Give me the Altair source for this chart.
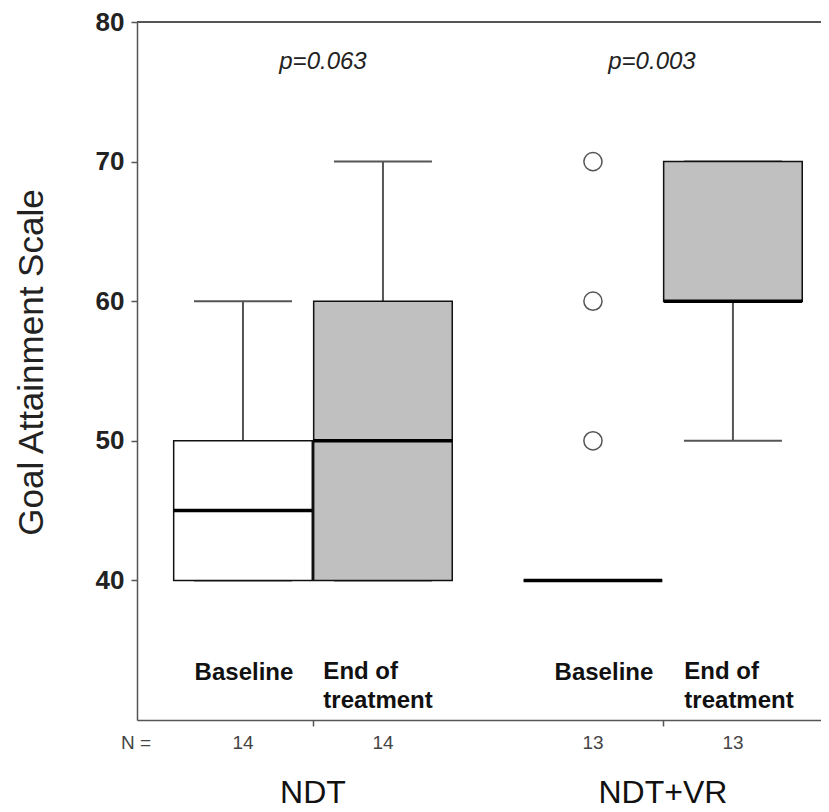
import altair as alt
import pandas as pd

# ---- data ----
groups = ["NDT", "NDT+VR"]
phases = ["Baseline", "End of treatment"]
box_group = [0, 0, 1, 1]
box_phase = [0, 1, 0, 1]
n_counts = [14, 14, 13, 13]
q1 = [40, 40, 40, 60]
median = [45, 50, 40, 60]
q3 = [50, 60, 40, 70]
whisker_low = [40, 40, 40, 50]
whisker_high = [60, 70, 40, 70]
outlier_box = [2, 2, 2]
outlier_values = [50, 60, 70]
p_labels = ["p=0.063", "p=0.003"]

# ---- layout / style constants ----
GROUP_STEP = 2.5
HALF_BOX = 0.495
HALF_CAP = 0.35
FONT = "Liberation Sans"
LINE = "#555555"
P_DX = [10, -11]      # small manual nudges of annotation texts, per group
BASE_DX = [1, 11]
END_DX = [-5, 6]

pos = [g * GROUP_STEP + p + 1 for g, p in zip(box_group, box_phase)]
group_center = [g * GROUP_STEP + 1.5 for g in range(len(groups))]

boxes = pd.DataFrame({
    "grp": box_group,
    "pos": pos,
    "left": [p - HALF_BOX for p in pos],
    "right": [p + HALF_BOX for p in pos],
    "cap_l": [p - HALF_CAP for p in pos],
    "cap_r": [p + HALF_CAP for p in pos],
    "phase": [phases[i] for i in box_phase],
    "n": [str(v) for v in n_counts],
    "q1": q1, "median": median, "q3": q3,
    "wlow": whisker_low, "whigh": whisker_high,
})
caps = pd.concat([
    boxes[["cap_l", "cap_r"]].assign(v=boxes["wlow"]),
    boxes[["cap_l", "cap_r"]].assign(v=boxes["whigh"]),
])
outliers = pd.DataFrame({"pos": [pos[i] for i in outlier_box], "v": outlier_values})
grp = pd.DataFrame({"g": list(range(len(groups))), "c": group_center, "name": groups, "p": p_labels})

xs = alt.Scale(domain=[0.243, 5.129], nice=False, zero=False)
ys = alt.Scale(domain=[30, 80], nice=False, zero=False)
xaxis = alt.Axis(values=group_center, labels=False, tickSize=6, tickColor=LINE,
                 tickWidth=1.5, domainColor=LINE, domainWidth=1.5, grid=False,
                 title=None)
yaxis = alt.Axis(values=[40, 50, 60, 70, 80], tickSize=6, tickColor=LINE, tickWidth=1.5,
                 domainColor=LINE, domainWidth=1.5, grid=False,
                 labelFont=FONT, labelFontSize=26, labelFontWeight="bold",
                 labelColor="#222222", labelPadding=7,
                 title="Goal Attainment Scale", titleFont=FONT, titleFontSize=35,
                 titleFontWeight="normal", titleColor="#222222", titleAngle=-90,
                 titleX=-95, titleY=340, titleAlign="center", titleBaseline="alphabetic")


def X(f):
    return alt.X(f, type="quantitative", scale=xs, axis=xaxis)


def Y(f):
    return alt.Y(f, type="quantitative", scale=ys, axis=yaxis)


layers = []
layers.append(alt.Chart(pd.DataFrame({"v": [80]})).mark_rule(color=LINE, strokeWidth=1.8)
              .encode(y=Y("v")))
layers.append(alt.Chart(boxes).mark_rule(color=LINE, strokeWidth=2).encode(
    x=X("pos"), y=Y("wlow"), y2="whigh"))
layers.append(alt.Chart(caps).mark_rule(color=LINE, strokeWidth=2).encode(
    x=X("cap_l"), x2="cap_r", y=Y("v")))
layers.append(alt.Chart(boxes).mark_rect(stroke="#111111", strokeWidth=1.5).encode(
    x=X("left"), x2="right", y=Y("q1"), y2="q3",
    fill=alt.Fill("phase:N", scale=alt.Scale(domain=phases, range=["white", "#c0c0c0"]),
                  legend=None)))
layers.append(alt.Chart(boxes).mark_rule(color="black", strokeWidth=3.5).encode(
    x=X("left"), x2="right", y=Y("median")))
layers.append(alt.Chart(outliers).mark_point(shape="circle", size=330, fill="white",
                                             fillOpacity=1, stroke=LINE, strokeWidth=1.5,
                                             opacity=1).encode(x=X("pos"), y=Y("v")))

for g in range(len(groups)):
    gb = boxes[boxes["grp"] == g]
    base_lbl = gb[gb["phase"] == phases[0]].assign(label="Baseline")
    end_lbl = gb[gb["phase"] == phases[1]].assign(label="End of\ntreatment",
                                                  lx=lambda d: d["pos"] - 0.39)
    layers.append(alt.Chart(base_lbl).mark_text(
        font=FONT, fontSize=24, fontWeight="bold", color="#111111",
        baseline="middle", align="center", dx=BASE_DX[g]).encode(
        x=X("pos"), y=alt.value(651), text="label:N"))
    layers.append(alt.Chart(end_lbl).mark_text(
        font=FONT, fontSize=24, fontWeight="bold", color="#111111",
        baseline="middle", align="left", lineBreak="\n", lineHeight=29, dx=END_DX[g]).encode(
        x=X("lx"), y=alt.value(650), text="label:N"))
    layers.append(alt.Chart(grp[grp["g"] == g]).mark_text(
        font=FONT, fontSize=24, fontStyle="italic", color="#222222",
        baseline="middle", align="center", dx=P_DX[g]).encode(
        x=X("c"), y=alt.value(40), text="p:N"))

layers.append(alt.Chart(boxes).mark_text(font=FONT, fontSize=19, color="#444444",
                                         baseline="middle", align="center").encode(
    x=X("pos"), y=alt.value(721), text="n:N"))
layers.append(alt.Chart(pd.DataFrame({"t": ["N ="]})).mark_text(
    font=FONT, fontSize=19, color="#444444", baseline="middle", align="center").encode(
    x=alt.value(-1), y=alt.value(721), text="t:N"))
layers.append(alt.Chart(grp).mark_text(font=FONT, fontSize=32, color="#111111",
                                       baseline="alphabetic", align="center").encode(
    x=X("c"), y=alt.value(781), text="name:N"))

chart = alt.layer(*layers).properties(
    width=684, height=698,
    padding={"left": 129, "top": 14, "right": 0, "bottom": 90},
    autosize=alt.AutoSizeParams(type="none"),
).configure_view(stroke=None)

chart.save("out.html", embed_options={"renderer": "svg", "actions": False})
